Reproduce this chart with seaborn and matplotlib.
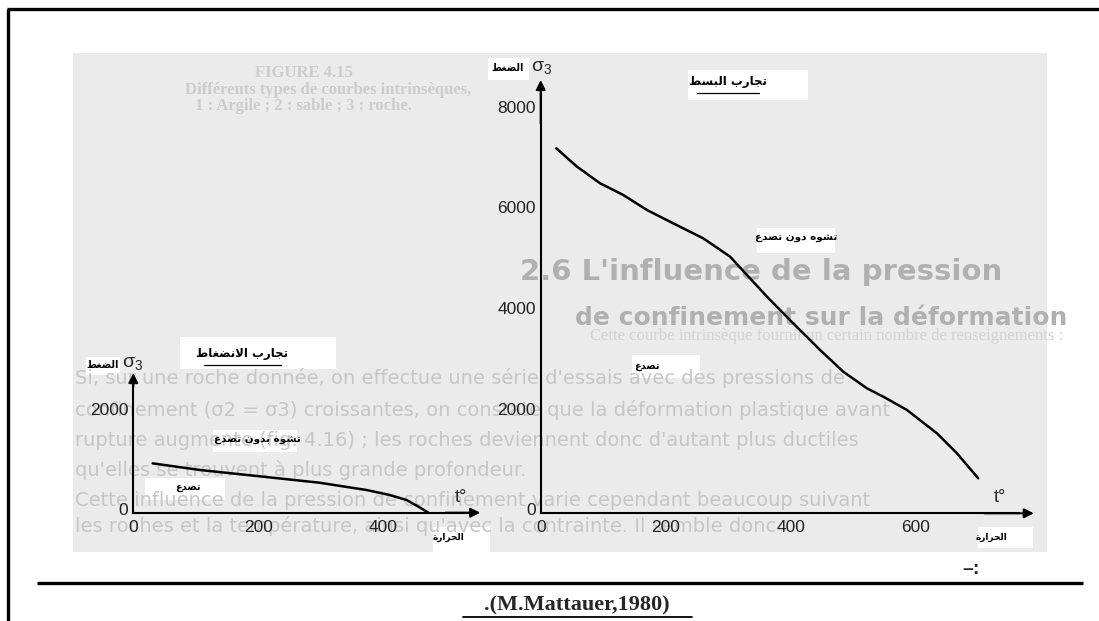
import matplotlib
matplotlib.use("Agg")
import matplotlib.pyplot as plt
import matplotlib.transforms as mtransforms
from matplotlib.patches import Rectangle
import seaborn as sns

# ---- data ----
# compression tests (small chart)
comp_t = [31, 107, 198, 298, 374, 411, 438, 457, 473]
comp_sigma = [993, 859, 738, 604, 456, 356, 255, 121, 0]
comp_xticks = [0, 100, 200, 300, 400, 500]
comp_xlabels = ["0", "", "200", "", "400", ""]
comp_yticks = [0, 1000, 2000]
comp_ylabels = ["0", "", "2000"]

# extension tests (big chart)
ext_t = [25, 58, 95, 132, 170, 212, 260, 303, 330, 362, 404, 447, 484, 522, 548, 586, 634, 666, 700]
ext_sigma = [7256, 6892, 6561, 6329, 6030, 5765, 5467, 5103, 4738, 4307, 3777, 3247,
             2816, 2485, 2319, 2054, 1590, 1193, 696]
ext_xticks = [0, 100, 200, 300, 400, 500, 600, 700]
ext_xlabels = ["0", "", "200", "", "400", "", "600", ""]
ext_yticks = [0, 1000, 2000, 3000, 4000, 5000, 6000, 7000, 8000]
ext_ylabels = ["0", "", "2000", "", "4000", "", "6000", "", "8000"]

press_lbl = "الضغط"
temp_lbl = "الحرارة"
comp_title = "تجارب الانضغاط"
ext_title = "تجارب البسط"
ductile_small = "تشوه بدون تصدع"
ductile_big = "تشوه دون تصدع"
fracture_lbl = "تصدع"
source_lbl = ".(M.Mattauer,1980)"

page_lines = [
    "Si, sur une roche donnée, on effectue une série d'essais avec des pressions de",
    "confinement (σ2 = σ3) croissantes, on constate que la déformation plastique avant",
    "rupture augmente (fig. 4.16) ; les roches deviennent donc d'autant plus ductiles",
    "qu'elles se trouvent à plus grande profondeur.",
    "Cette influence de la pression de confinement varie cependant beaucoup suivant",
    "les roches et la température, ainsi qu'avec la contrainte. Il semble donc",
]

# arabic shaping: presentation forms (isolated, final, initial, medial)
FORMS = {
    "ا": ("\uFE8D", "\uFE8E", None, None),
    "ب": ("\uFE8F", "\uFE90", "\uFE91", "\uFE92"),
    "ة": ("\uFE93", "\uFE94", None, None),
    "ت": ("\uFE95", "\uFE96", "\uFE97", "\uFE98"),
    "ج": ("\uFE9D", "\uFE9E", "\uFE9F", "\uFEA0"),
    "ح": ("\uFEA1", "\uFEA2", "\uFEA3", "\uFEA4"),
    "د": ("\uFEA9", "\uFEAA", None, None),
    "ر": ("\uFEAD", "\uFEAE", None, None),
    "س": ("\uFEB1", "\uFEB2", "\uFEB3", "\uFEB4"),
    "ش": ("\uFEB5", "\uFEB6", "\uFEB7", "\uFEB8"),
    "ص": ("\uFEB9", "\uFEBA", "\uFEBB", "\uFEBC"),
    "ض": ("\uFEBD", "\uFEBE", "\uFEBF", "\uFEC0"),
    "ط": ("\uFEC1", "\uFEC2", "\uFEC3", "\uFEC4"),
    "ع": ("\uFEC9", "\uFECA", "\uFECB", "\uFECC"),
    "غ": ("\uFECD", "\uFECE", "\uFECF", "\uFED0"),
    "ل": ("\uFEDD", "\uFEDE", "\uFEDF", "\uFEE0"),
    "ن": ("\uFEE5", "\uFEE6", "\uFEE7", "\uFEE8"),
    "ه": ("\uFEE9", "\uFEEA", "\uFEEB", "\uFEEC"),
    "و": ("\uFEED", "\uFEEE", None, None),
    "\uFEFB": ("\uFEFB", "\uFEFC", None, None),
}


def shape(text):
    chars = list(text.replace("لا", "\uFEFB"))
    out = []
    for i, c in enumerate(chars):
        if c not in FORMS:
            out.append(c)
            continue
        prev = chars[i - 1] if i > 0 else None
        nxt = chars[i + 1] if i + 1 < len(chars) else None
        join_prev = prev in FORMS and FORMS[prev][2] is not None
        join_next = FORMS[c][2] is not None and nxt in FORMS
        iso, fin, ini, med = FORMS[c]
        if join_prev and join_next:
            out.append(med)
        elif join_prev:
            out.append(fin)
        elif join_next:
            out.append(ini)
        else:
            out.append(iso)
    return "".join(reversed(out))


sns.set_style("white")
plt.rcParams["font.family"] = ["Liberation Sans", "DejaVu Sans"]
plt.rcParams["mathtext.fontset"] = "custom"
plt.rcParams["mathtext.rm"] = "Liberation Sans"
plt.rcParams["mathtext.it"] = "Liberation Sans"

W, H = 1099, 621
fig = plt.figure(figsize=(W / 100, H / 100), dpi=100)
fig.patch.set_facecolor("white")

# background layer in pixel coordinates
bg = fig.add_axes([0, 0, 1, 1])
bg.set_xlim(0, W)
bg.set_ylim(H, 0)
bg.axis("off")

panel = Rectangle((73, 53), 974, 499, facecolor="#ebebeb", edgecolor="none")
bg.add_patch(panel)

# faded page text of the scan
faint = dict(color="#c6c6c6", fontsize=14, va="center", ha="left", family="DejaVu Sans")
for y, line in zip([378, 410, 440, 470, 500, 526], page_lines):
    t = bg.text(75, y, line, **faint)
    t.set_clip_path(panel)
t = bg.text(520, 272, "2.6 L'influence de la pression", color="#b0b0b0", fontsize=21,
            fontweight="bold", ha="left", va="center", family="DejaVu Sans")
t.set_clip_path(panel)
t = bg.text(575, 318, "de confinement sur la déformation", color="#b0b0b0", fontsize=18,
            fontweight="bold", ha="left", va="center", family="DejaVu Sans")
t.set_clip_path(panel)
t = bg.text(590, 336, "Cette courbe intrinsèque fournit un certain nombre de renseignements :",
            color="#d2d2d2", fontsize=12, ha="left", va="center", family="Liberation Serif")
t.set_clip_path(panel)
for x, y, s in [(255, 73, "FIGURE 4.15"), (185, 90, "Différents types de courbes intrinsèques,"),
                (195, 106, "1 : Argile ; 2 : sable ; 3 : roche.")]:
    bg.text(x, y, s, color="#cccccc", fontsize=12, fontweight="bold", ha="left", va="center",
            family="Liberation Serif")

# white label boxes pasted over the scan
boxes = [(86, 357, 34, 18), (180, 337, 156, 32), (213, 430, 84, 22), (145, 478, 80, 22),
         (433, 527, 57, 26), (488, 58, 41, 22), (688, 70, 120, 30), (757, 228, 78, 25),
         (632, 355, 68, 23), (978, 527, 55, 21)]
for x, y, w, h in boxes:
    bg.add_patch(Rectangle((x, y), w, h, facecolor="white", edgecolor="none"))

ar = dict(family="DejaVu Sans", ha="center", va="center", color="black")
bg.text(103, 365, shape(press_lbl), fontsize=7, fontweight="bold", **ar)
bg.text(242, 353, shape(comp_title), fontsize=8.5, fontweight="bold", **ar)
bg.plot([204, 281], [365, 365], color="black", lw=0.9)
bg.text(257, 440, shape(ductile_small), fontsize=7.5, fontweight="bold", **ar)
bg.text(188, 487, shape(fracture_lbl), fontsize=7, fontweight="bold", **ar)
bg.text(449, 537, shape(temp_lbl), fontsize=6.5, fontweight="bold", **ar)
bg.text(508, 68, shape(press_lbl), fontsize=7, fontweight="bold", **ar)
bg.text(728, 82, shape(ext_title), fontsize=8.5, fontweight="bold", **ar)
bg.plot([697, 759], [93, 93], color="black", lw=0.9)
bg.text(796, 238, shape(ductile_big), fontsize=7.5, fontweight="bold", **ar)
bg.text(647, 366, shape(fracture_lbl), fontsize=7, fontweight="bold", **ar)
bg.text(992, 537, shape(temp_lbl), fontsize=6.5, fontweight="bold", **ar)

# axis names
for x, y in [(133, 363), (542, 67)]:
    bg.text(x, y, r"$\sigma_3$", fontsize=14, ha="center", va="center")
for x, y in [(461, 497), (1000, 497)]:
    bg.text(x, y, "t°", fontsize=13, ha="center", va="center")

# frame and footer
bg.plot([7, W], [9, 9], color="black", lw=2.4, solid_capstyle="butt")
bg.plot([8, 8], [9, H], color="black", lw=2.4, solid_capstyle="butt")
bg.plot([37, 1083], [583, 583], color="black", lw=2.4, solid_capstyle="butt")
bg.text(971, 569, "–:", fontsize=14, fontweight="bold", ha="center", va="center",
        family="Liberation Sans")
bg.text(577, 605, source_lbl, fontsize=16, fontweight="bold", ha="center", va="center",
        family="Liberation Serif")
bg.plot([463, 692], [617, 617], color="black", lw=1.3)


def add_chart(px0, py0, kx, ky, xlim, ylim):
    left = px0 + kx * xlim[0]
    right = px0 + kx * xlim[1]
    top = py0 - ky * ylim[1]
    bottom = py0 - ky * ylim[0]
    ax = fig.add_axes([left / W, 1 - bottom / H, (right - left) / W, (bottom - top) / H])
    ax.set_xlim(*xlim)
    ax.set_ylim(*ylim)
    ax.patch.set_alpha(0)
    return ax


def style_chart(ax, xtip, ytip, xticks, xlabels, yticks, ylabels):
    for side in ["top", "right"]:
        ax.spines[side].set_visible(False)
    ax.spines["left"].set_position(("data", 0))
    ax.spines["bottom"].set_position(("data", 0))
    ax.spines["left"].set_bounds(0, ytip * 0.97)
    ax.spines["bottom"].set_bounds(0, xtip * 0.97)
    for side in ["left", "bottom"]:
        ax.spines[side].set_linewidth(1.5)
        ax.spines[side].set_color("black")
    arrow = dict(arrowstyle="-|>", color="black", lw=1.5, mutation_scale=14,
                 shrinkA=0, shrinkB=0)
    ax.annotate("", xy=(xtip, 0), xytext=(xtip * 0.9, 0), arrowprops=arrow, annotation_clip=False)
    ax.annotate("", xy=(0, ytip), xytext=(0, ytip * 0.9), arrowprops=arrow, annotation_clip=False)
    ax.set_xticks(xticks)
    ax.set_xticklabels(xlabels)
    ax.set_yticks(yticks)
    ax.set_yticklabels(ylabels)
    ax.tick_params(axis="both", direction="in", length=5, width=1.3, colors="black",
                   labelsize=12.5)
    ax.tick_params(axis="x", pad=5)
    ax.tick_params(axis="y", pad=3.5)
    up = mtransforms.ScaledTranslation(0, 3 / 72, fig.dpi_scale_trans)
    for lab in ax.get_yticklabels():
        lab.set_transform(lab.get_transform() + up)
    for lab in ax.get_xticklabels() + ax.get_yticklabels():
        lab.set_color("#222222")
    ax.set_xlabel("")
    ax.set_ylabel("")


ax1 = add_chart(133.3, 512.7, 0.624, 0.0497, (-30, 575), (-450, 2900))
sns.lineplot(x=comp_t, y=comp_sigma, ax=ax1, color="black", linewidth=1.8)
style_chart(ax1, 556, 2810, comp_xticks, comp_xlabels, comp_yticks, comp_ylabels)

ax2 = add_chart(540.7, 513.3, 0.625, 0.0503, (-30, 800), (-450, 8800))
sns.lineplot(x=ext_t, y=ext_sigma, ax=ax2, color="black", linewidth=1.8)
style_chart(ax2, 789, 8614, ext_xticks, ext_xlabels, ext_yticks, ext_ylabels)

fig.savefig("out.png", dpi=100)
